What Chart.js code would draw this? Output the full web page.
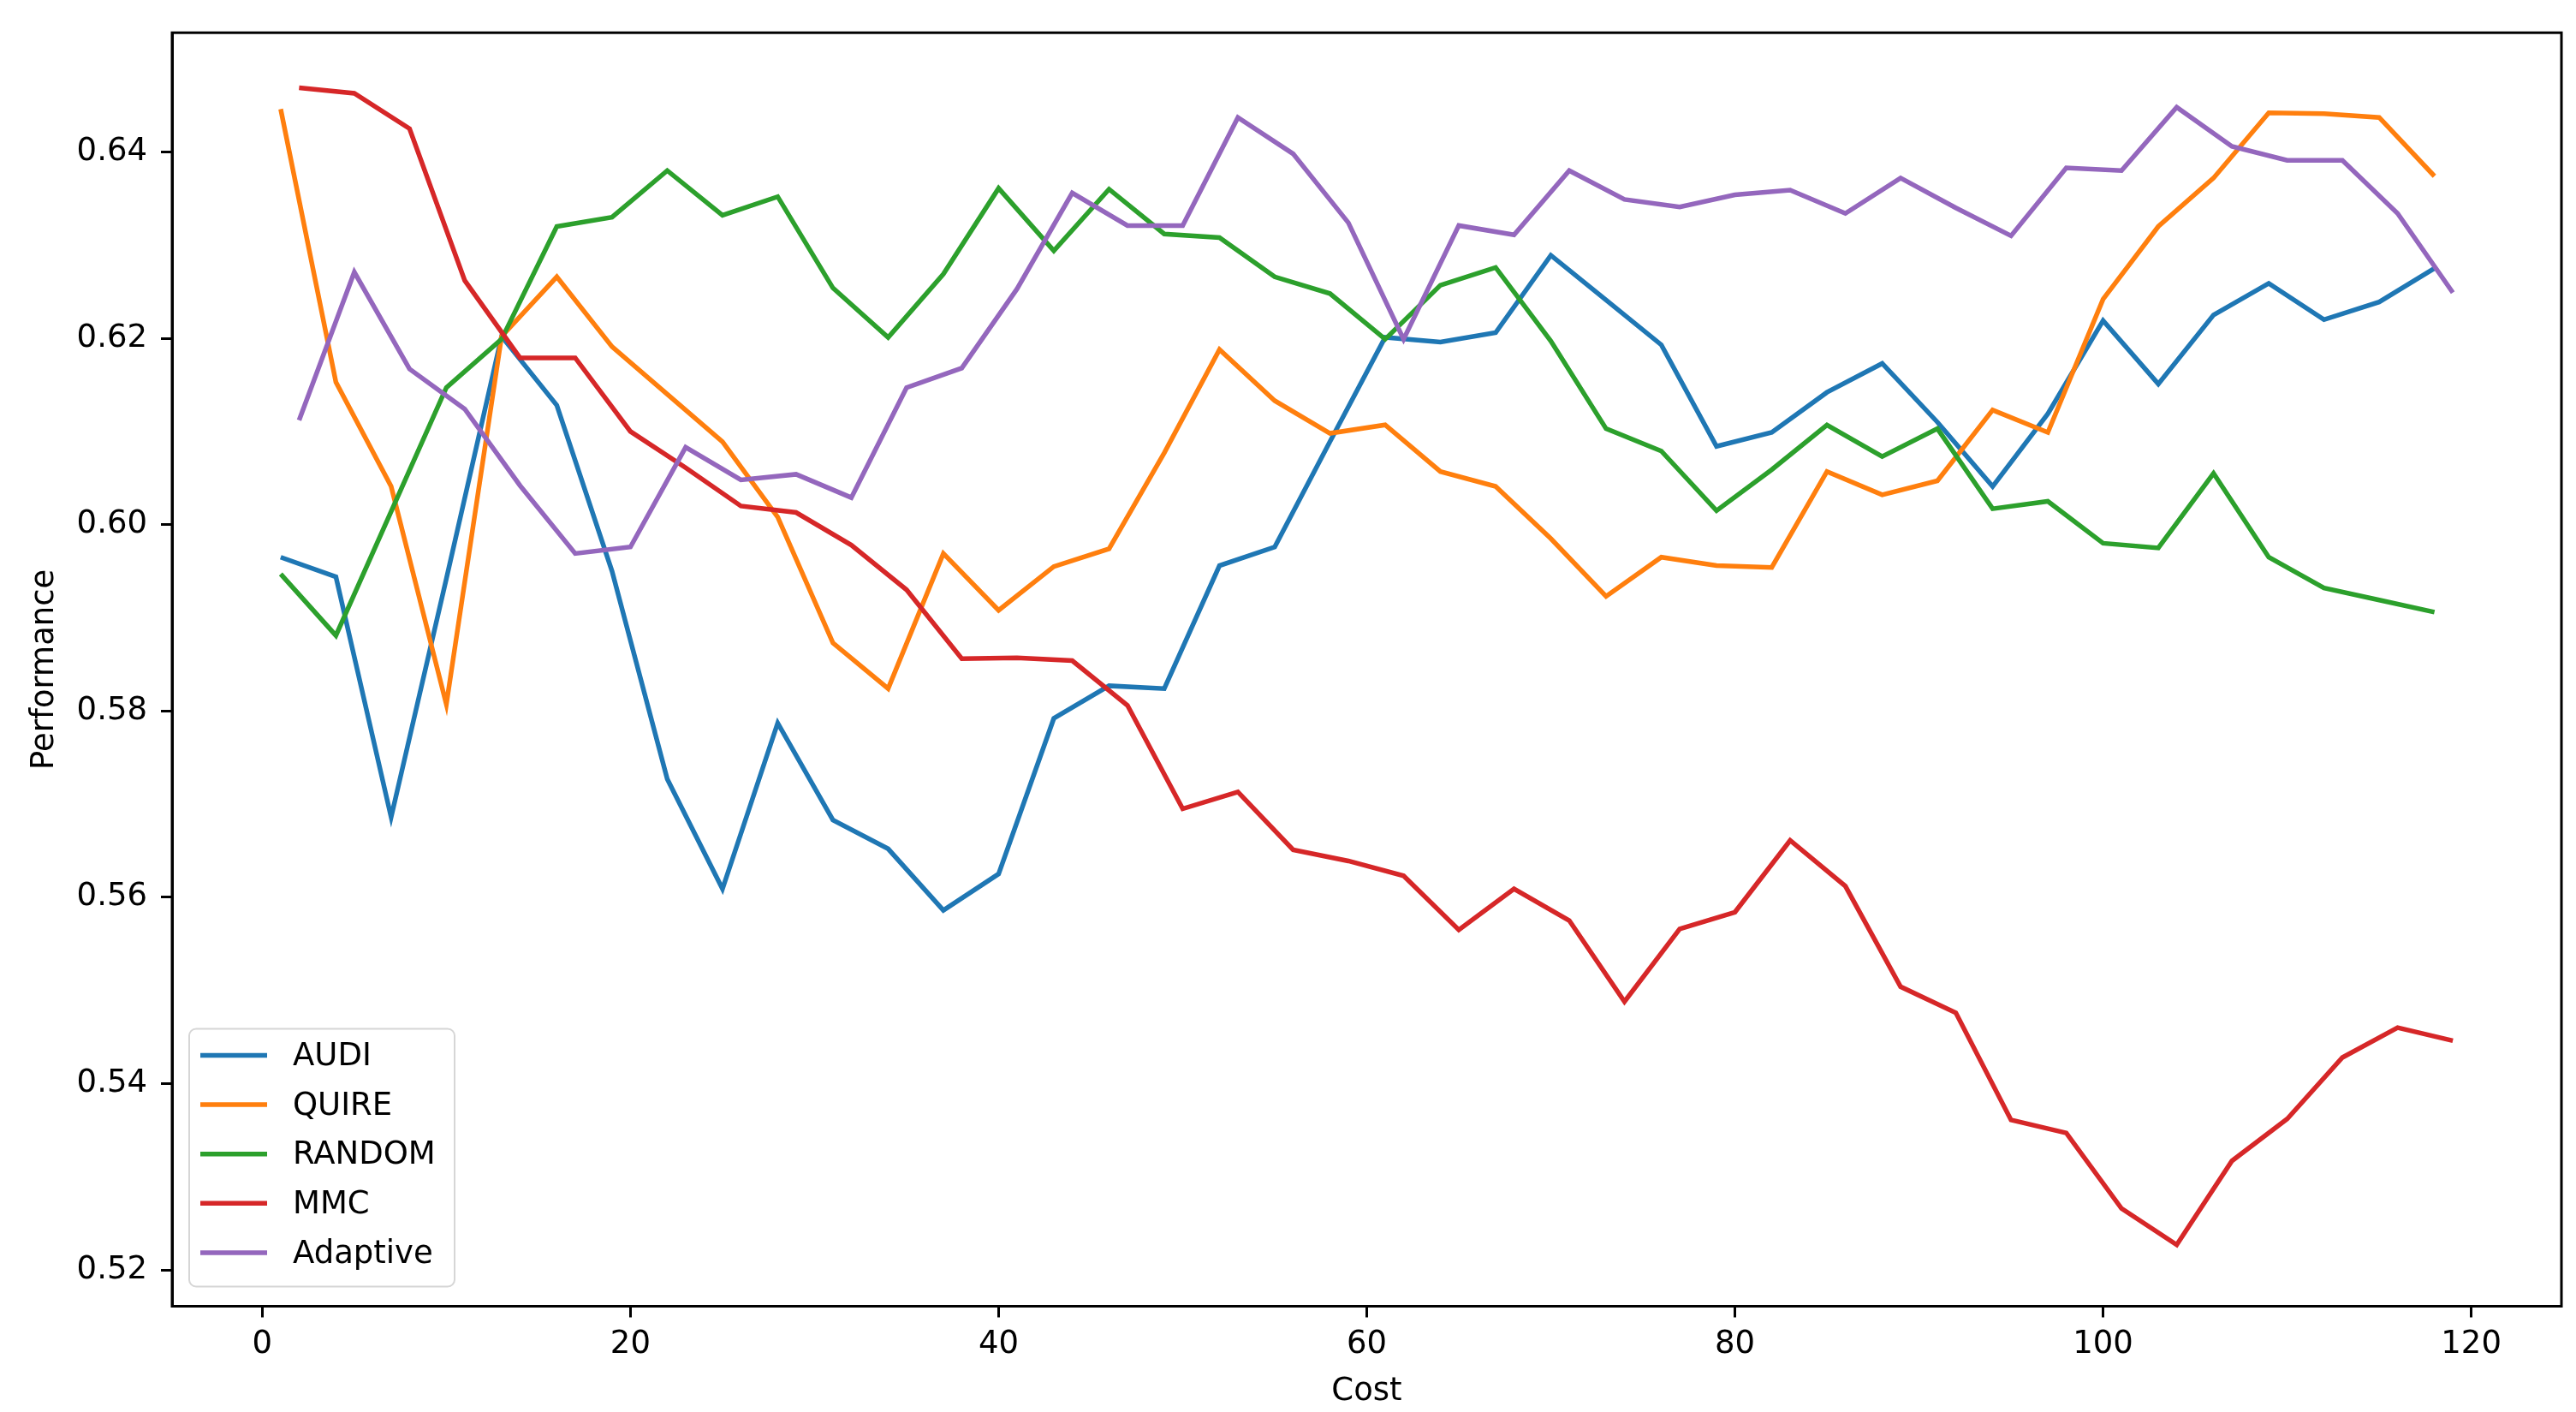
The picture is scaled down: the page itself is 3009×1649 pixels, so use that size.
<!DOCTYPE html>
<html>
<head>
<meta charset="utf-8">
<script src="https://cdn.jsdelivr.net/npm/chart.js@4.4.1/dist/chart.umd.min.js"></script>
<style>
  html, body { margin: 0; padding: 0; background: #fff; }
  canvas { display: block; }
</style>
</head>
<body>
<canvas id="perfChart" width="3009" height="1649"></canvas>
<script>
// cost values: two sampling grids
const costA = [1,4,7,10,13,16,19,22,25,28,31,34,37,40,43,46,49,52,55,58,61,64,67,70,73,76,79,82,85,88,91,94,97,100,103,106,109,112,115,118];
const costB = [2,5,8,11,14,17,20,23,26,29,32,35,38,41,44,47,50,53,56,59,62,65,68,71,74,77,80,83,86,89,92,95,98,101,104,107,110,113,116,119];

const audi = [0.5965,0.5944,0.5686,0.5942,0.6202,0.6128,0.5950,0.5727,0.5609,0.5787,
  0.5683,0.5652,0.5586,0.5625,0.5792,0.5827,0.5824,0.5956,0.5976,0.6089,
  0.6201,0.6196,0.6206,0.6289,0.6241,0.6193,0.6084,0.6099,0.6142,0.6173,
  0.6110,0.6041,0.6119,0.6219,0.6151,0.6225,0.6259,0.6220,0.6239,0.6275];
const quire = [0.6446,0.6153,0.6041,0.5807,0.6202,0.6266,0.6191,0.6140,0.6089,0.6008,
  0.5873,0.5824,0.5969,0.5908,0.5955,0.5974,0.6077,0.6188,0.6133,0.6098,
  0.6107,0.6057,0.6041,0.5985,0.5923,0.5965,0.5956,0.5954,0.6057,0.6032,
  0.6047,0.6123,0.6099,0.6242,0.6320,0.6372,0.6442,0.6441,0.6437,0.6374];
const random = [0.5947,0.5881,0.6014,0.6147,0.6199,0.6320,0.6330,0.6380,0.6332,0.6352,
  0.6254,0.6201,0.6269,0.6361,0.6294,0.6360,0.6312,0.6308,0.6266,0.6248,
  0.6199,0.6257,0.6276,0.6197,0.6103,0.6079,0.6015,0.6059,0.6107,0.6073,
  0.6103,0.6017,0.6025,0.5980,0.5975,0.6055,0.5965,0.5932,0.5919,0.5906];
const mmc = [0.6469,0.6463,0.6425,0.6262,0.6179,0.6179,0.6100,0.6061,0.6020,0.6013,
  0.5978,0.5930,0.5856,0.5857,0.5854,0.5806,0.5695,0.5713,0.5651,0.5639,
  0.5623,0.5565,0.5609,0.5575,0.5488,0.5566,0.5584,0.5661,0.5612,0.5504,
  0.5476,0.5361,0.5347,0.5266,0.5227,0.5317,0.5362,0.5428,0.5460,0.5446];
const adaptive = [0.6112,0.6271,0.6167,0.6124,0.6042,0.5969,0.5976,0.6083,0.6048,0.6054,
  0.6029,0.6147,0.6168,0.6253,0.6356,0.6321,0.6321,0.6437,0.6398,0.6324,
  0.6199,0.6321,0.6311,0.6380,0.6349,0.6341,0.6354,0.6359,0.6334,0.6372,
  0.6340,0.6310,0.6383,0.6380,0.6448,0.6406,0.6391,0.6391,0.6334,0.6249];

const seriesNames = ['AUDI', 'QUIRE', 'RANDOM', 'MMC', 'Adaptive'];
const seriesColors = ['#1f77b4', '#ff7f0e', '#2ca02c', '#d62728', '#9467bd'];
const seriesValues = [audi, quire, random, mmc, adaptive];
const seriesCosts = [costA, costA, costA, costB, costB];

const FONT = 'DejaVu Sans';
const FS = 37;

const datasets = seriesNames.map((name, i) => ({
  label: name,
  data: seriesValues[i].map((v, k) => ({ x: seriesCosts[i][k], y: v })),
  borderColor: seriesColors[i],
  backgroundColor: seriesColors[i],
  borderWidth: 5.5,
  pointRadius: 0,
  tension: 0,
  fill: false,
  order: seriesNames.length - i // later series on top, like matplotlib
}));

// box round the axes plus matplotlib-style legend in the lower left
const framePlugin = {
  id: 'frameAndLegend',
  afterDraw(chart) {
    const { ctx, chartArea } = chart;
    ctx.save();
    ctx.strokeStyle = '#000';
    ctx.lineWidth = 3;
    ctx.strokeRect(chartArea.left, chartArea.top, chartArea.right - chartArea.left, chartArea.bottom - chartArea.top);

    const boxW = 310, boxH = 301;
    const bx = chartArea.left + 20;
    const by = chartArea.bottom - 23 - boxH;
    ctx.beginPath();
    ctx.roundRect(bx, by, boxW, boxH, 8);
    ctx.fillStyle = 'rgba(255,255,255,0.8)';
    ctx.fill();
    ctx.strokeStyle = '#d6d6d6';
    ctx.lineWidth = 2;
    ctx.stroke();

    ctx.font = FS + 'px "' + FONT + '"';
    ctx.textBaseline = 'middle';
    ctx.textAlign = 'left';
    chart.data.datasets.forEach((ds, i) => {
      const cy = by + 31 + i * 57.6;
      ctx.strokeStyle = ds.borderColor;
      ctx.lineWidth = 5.5;
      ctx.beginPath();
      ctx.moveTo(bx + 13, cy);
      ctx.lineTo(bx + 91, cy);
      ctx.stroke();
      ctx.fillStyle = '#000';
      ctx.fillText(ds.label, bx + 121, cy + 2);
    });
    ctx.restore();
  }
};

const ctx = document.getElementById('perfChart').getContext('2d');
new Chart(ctx, {
  type: 'line',
  data: { datasets: datasets },
  options: {
    responsive: false,
    animation: false,
    devicePixelRatio: 1,
    layout: { padding: { left: 0, right: 17, top: 23.5, bottom: 0 } },
    plugins: {
      legend: { display: false },
      tooltip: { enabled: false }
    },
    scales: {
      x: {
        type: 'linear',
        min: -4.9,
        max: 124.9,
        afterFit(scale) { scale.height = 123.5; },
        ticks: {
          stepSize: 20,
          includeBounds: false,
          color: '#000',
          padding: 10,
          maxRotation: 0,
          font: { family: FONT, size: FS }
        },
        grid: { drawOnChartArea: false, drawTicks: true, tickLength: 13, tickWidth: 3, tickColor: '#000' },
        border: { display: true, color: '#000', width: 3 },
        title: {
          display: true,
          text: 'Cost',
          color: '#000',
          padding: { top: 0, bottom: 1 },
          font: { family: FONT, size: FS }
        }
      },
      y: {
        type: 'linear',
        min: 0.5161,
        max: 0.6528,
        afterFit(scale) { scale.width = 201; },
        ticks: {
          stepSize: 0.02,
          includeBounds: false,
          color: '#000',
          padding: 16,
          font: { family: FONT, size: FS },
          callback: (v) => v.toFixed(2)
        },
        grid: { drawOnChartArea: false, drawTicks: true, tickLength: 13, tickWidth: 3, tickColor: '#000' },
        border: { display: true, color: '#000', width: 3 },
        title: {
          display: true,
          text: 'Performance',
          color: '#000',
          padding: { top: 30, bottom: 0 },
          font: { family: FONT, size: FS }
        }
      }
    }
  },
  plugins: [framePlugin]
});
</script>
</body>
</html>
